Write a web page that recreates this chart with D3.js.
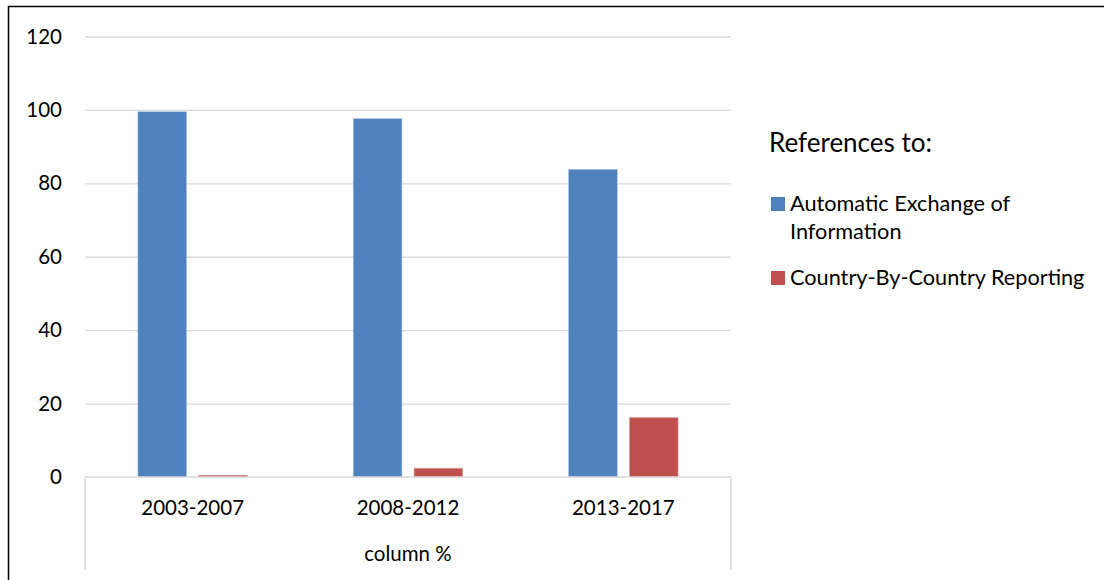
<!DOCTYPE html>
<html>
<head>
<meta charset="utf-8">
<script src="https://cdn.jsdelivr.net/npm/d3@7"></script>
<style>
  html, body { margin: 0; padding: 0; background: #fff; }
  svg { display: block; font-family: Lato, "Noto Sans", sans-serif; }
</style>
</head>
<body>
<svg id="chart" width="1104" height="580"></svg>
<script>
const categories = ["2003-2007", "2008-2012", "2013-2017"];
const axisTitle = "column %";
const seriesNames = ["Automatic Exchange of Information", "Country-By-Country Reporting"];
const aeoiValues = [99.5, 97.6, 83.8];
const cbcrValues = [0.5, 2.4, 16.2];
const yTicks = [0, 20, 40, 60, 80, 100, 120];
const legendTitle = "References to:";
const colors = ["#4F81BD", "#C0504D"];

const svg = d3.select("#chart");

// outer frame (only left and top visible in crop)
svg.append("rect").attr("x", 8.5).attr("y", 6.5).attr("width", 1200).attr("height", 1000)
  .attr("fill", "none").attr("stroke", "#000").attr("stroke-width", 1.5);

const plot = { left: 85, right: 731, top: 36.5, bottom: 477 };

const y = d3.scaleLinear().domain([0, 120]).range([plot.bottom, plot.top]);
const x0 = d3.scaleBand().domain(categories).range([plot.left, plot.right]).paddingInner(0).paddingOuter(0);
const x1 = d3.scaleBand().domain(seriesNames).range([0, x0.bandwidth()]).paddingInner(0.2).paddingOuter(0.87);

// gridlines
const grid = svg.append("g").attr("transform", `translate(${plot.left},0)`)
  .call(d3.axisLeft(y).tickValues(yTicks.filter(v => v > 0)).tickSize(-(plot.right - plot.left)).tickFormat(""));
grid.select(".domain").remove();
grid.selectAll("line").attr("stroke", "#d9d9d9").attr("stroke-width", 1.3);

// y tick labels
const yAxis = svg.append("g").attr("transform", `translate(${plot.left},0)`)
  .call(d3.axisLeft(y).tickValues(yTicks).tickSize(0).tickPadding(23));
yAxis.select(".domain").remove();
yAxis.selectAll("text").attr("font-size", 20.5).attr("fill", "#000").attr("font-family", "Lato, sans-serif");

// bars
const data = categories.map((c, i) => ({ cat: c, vals: [aeoiValues[i], cbcrValues[i]] }));
const groups = svg.append("g").selectAll("g").data(data).join("g")
  .attr("transform", d => `translate(${x0(d.cat)},0)`);
groups.selectAll("rect").data(d => d.vals.map((v, j) => ({ name: seriesNames[j], v, j })))
  .join("rect")
  .attr("x", d => x1(d.name))
  .attr("width", x1.bandwidth())
  .attr("y", d => y(d.v))
  .attr("height", d => y(0) - y(d.v))
  .attr("fill", d => colors[d.j])
  .attr("stroke", d => d.j === 0 ? "#a7c0de" : "#e0a8a6")
  .attr("stroke-width", 0.6);

// x axis line + outer verticals
const axisCol = "#d9d9d9";
svg.append("line").attr("x1", plot.left).attr("x2", plot.right).attr("y1", y(0)).attr("y2", y(0))
  .attr("stroke", axisCol).attr("stroke-width", 1.5);
[plot.left, plot.right].forEach(xx => {
  svg.append("line").attr("x1", xx).attr("x2", xx).attr("y1", y(0)).attr("y2", 570)
    .attr("stroke", axisCol).attr("stroke-width", 1.5);
});

// category labels
const xAxis = svg.append("g").attr("transform", `translate(0,${y(0)})`)
  .call(d3.axisBottom(x0).tickSize(0).tickPadding(0));
xAxis.select(".domain").remove();
xAxis.selectAll("text").attr("font-size", 20.5).attr("fill", "#000").attr("font-family", "Lato, sans-serif")
  .attr("dy", null).attr("y", 38);

svg.append("text").attr("x", (plot.left + plot.right) / 2).attr("y", 561)
  .attr("text-anchor", "middle").attr("font-size", 20.5).text(axisTitle);

// legend
const lg = svg.append("g");
lg.append("text").attr("x", 769).attr("y", 152).attr("font-size", 26).text(legendTitle);
const legendItems = [
  { lines: ["Automatic Exchange of", "Information"], color: colors[0], sy: 197 },
  { lines: ["Country-By-Country Reporting"], color: colors[1], sy: 271 }
];
legendItems.forEach(it => {
  lg.append("rect").attr("x", 771).attr("y", it.sy).attr("width", 14).attr("height", 14).attr("fill", it.color);
  const t = lg.append("text").attr("x", 790).attr("y", it.sy + 14).attr("font-size", 21.7);
  it.lines.forEach((l, i) => t.append("tspan").attr("x", 790).attr("dy", i === 0 ? 0 : 28).text(l));
});
</script>
</body>
</html>
